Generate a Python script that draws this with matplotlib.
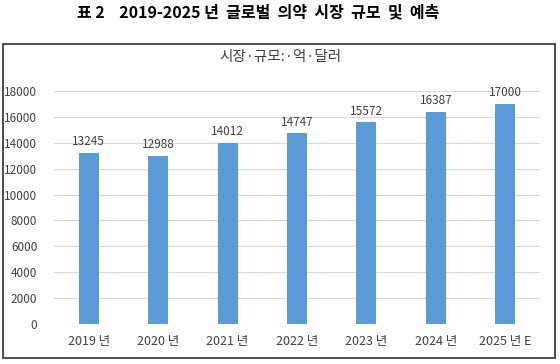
import matplotlib
matplotlib.use("Agg")
import matplotlib.pyplot as plt
from matplotlib.patches import Rectangle

plt.rcParams['font.family'] = ['Noto Sans CJK KR', 'DejaVu Sans']

years = ["2019 년", "2020 년", "2021 년", "2022 년", "2023 년", "2024 년", "2025 년 E"]
values = [13245, 12988, 14012, 14747, 15572, 16387, 17000]
yticks = list(range(0, 18001, 2000))

fig = plt.figure(figsize=(5.6, 3.64), dpi=100)
ax = fig.add_axes([54 / 560, 1 - 324 / 364, 486 / 560, (324 - 91) / 364])

bars = ax.bar(range(len(years)), values, width=0.29, color="#5B9BD5", zorder=3)
for b, v in zip(bars, values):
    ax.text(b.get_x() + b.get_width() / 2, v + 350, str(v), ha="center", va="bottom",
            fontsize=8.5, color="#404040")

ax.set_xlim(-0.5, len(years) - 0.5)
ax.set_ylim(0, 18000)
ax.set_yticks(yticks)
ax.set_xticks(range(len(years)))
ax.set_xticklabels(years, fontsize=9, color="#404040")
ax.tick_params(axis="y", labelsize=8.5, colors="#404040", length=0, pad=12)
ax.tick_params(axis="x", length=0, pad=8)
ax.grid(axis="y", color="#D9D9D9", linewidth=0.8, zorder=0)
for s in ax.spines.values():
    s.set_visible(False)

fig.text(258 / 560, 1 - 12 / 364, "표 2    2019-2025 년  글로벌  의약  시장  규모  및  예측",
         ha="center", va="center", fontsize=11.5, fontweight="bold", color="black")
fig.text(0.5, 1 - 57 / 364, "시장·규모:·억·달러", ha="center", va="center",
         fontsize=10.5, color="#404040")

fig.patches.append(Rectangle((3 / 560, 1 - 358 / 364), 552 / 560, 314 / 364, transform=fig.transFigure,
                             fill=False, edgecolor="#303030", linewidth=1.2))

fig.savefig("out.png", dpi=100)
